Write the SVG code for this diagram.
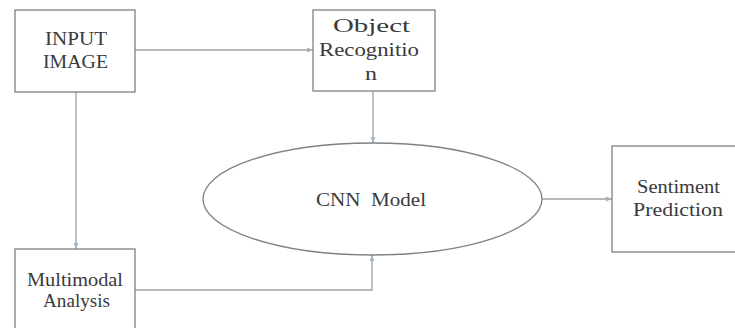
<svg xmlns="http://www.w3.org/2000/svg" width="735" height="328" viewBox="0 0 735 328">
<style>
.box{fill:#fff;stroke:#808080;stroke-width:1.3}
.c{fill:none;stroke:#a0a0a0;stroke-width:1.3}
</style>
<defs>
<marker id="ah" viewBox="0 0 10 10" refX="10" refY="5" markerWidth="6" markerHeight="6" orient="auto" markerUnits="userSpaceOnUse">
<path d="M0,1 L10,5 L0,9 z" fill="#9fb3c4"/>
</marker>
</defs>
<rect width="735" height="328" fill="#fff"/>
<g id="connectors">
<line class="c" x1="135" y1="50" x2="313" y2="50" marker-end="url(#ah)"/>
<line class="c" x1="373" y1="91" x2="373" y2="143" marker-end="url(#ah)"/>
<line class="c" x1="76" y1="92" x2="76" y2="249" marker-end="url(#ah)"/>
<polyline class="c" points="135,290 372,290 372,255" marker-end="url(#ah)"/>
<line class="c" x1="542" y1="199" x2="612" y2="199" marker-end="url(#ah)"/>
</g>
<g font-family="Liberation Serif, DejaVu Serif, serif" font-size="19" fill="#3a3a3a">
<g id="input-image">
<rect class="box" x="15" y="10" width="120" height="82"/>
<text x="45" y="45" textLength="62" lengthAdjust="spacingAndGlyphs">INPUT</text>
<text x="43" y="68" textLength="65" lengthAdjust="spacingAndGlyphs">IMAGE</text>
</g>
<g id="object-recognition">
<rect class="box" x="313" y="10" width="122" height="81"/>
<text x="333" y="32" textLength="77" lengthAdjust="spacingAndGlyphs">Object</text>
<text x="319" y="56" textLength="100" lengthAdjust="spacingAndGlyphs">Recognitio</text>
<text x="365" y="80" textLength="12" lengthAdjust="spacingAndGlyphs">n</text>
</g>
<g id="cnn-model">
<ellipse class="box" cx="372.5" cy="199" rx="169.5" ry="56"/>
<text x="316" y="206" textLength="110" lengthAdjust="spacingAndGlyphs" xml:space="preserve">CNN  Model</text>
</g>
<g id="sentiment-prediction">
<rect class="box" x="612" y="146" width="130" height="106"/>
<text x="637" y="193" textLength="83" lengthAdjust="spacingAndGlyphs">Sentiment</text>
<text x="633" y="216" textLength="90" lengthAdjust="spacingAndGlyphs">Prediction</text>
</g>
<g id="multimodal-analysis">
<rect class="box" x="15" y="249" width="120" height="90"/>
<text x="27" y="286" textLength="96" lengthAdjust="spacingAndGlyphs">Multimodal</text>
<text x="43" y="307" textLength="67" lengthAdjust="spacingAndGlyphs">Analysis</text>
</g>
</g>
</svg>
